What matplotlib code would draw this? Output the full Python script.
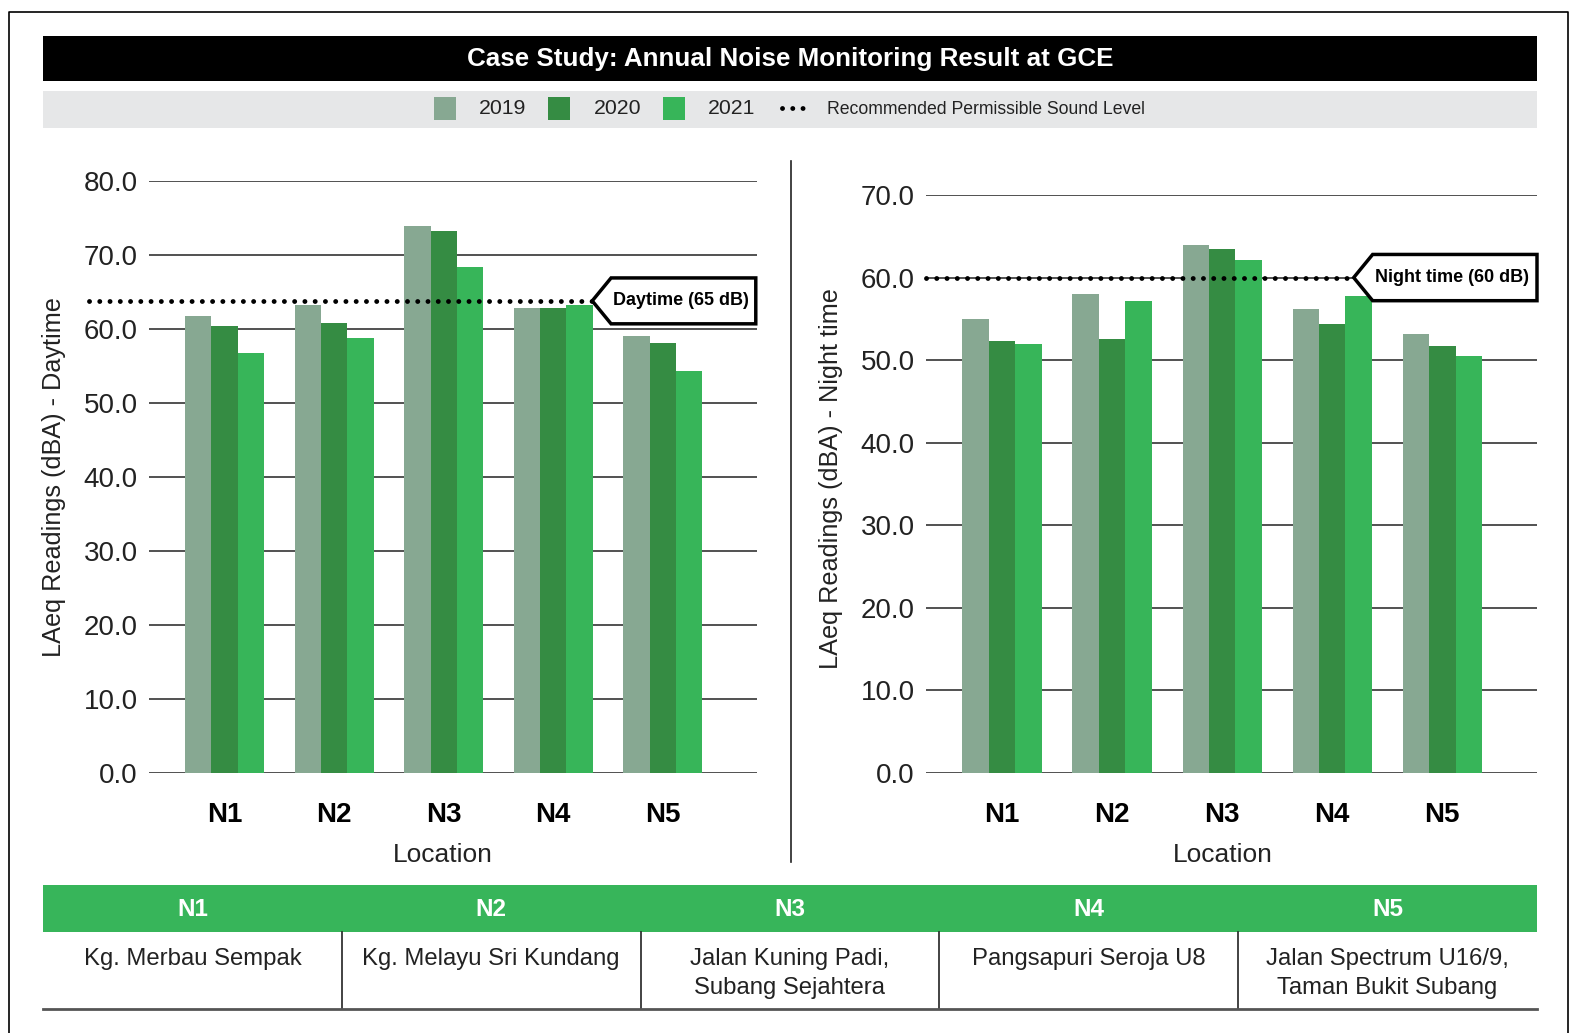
import matplotlib
matplotlib.use("Agg")
import matplotlib.pyplot as plt
from matplotlib.patches import Rectangle, Polygon
import numpy as np

plt.rcParams['font.family'] = ['Liberation Sans', 'DejaVu Sans']

# ---- data ----
locations = ['N1', 'N2', 'N3', 'N4', 'N5']
years = ['2019', '2020', '2021']
day_2019 = [61.8, 63.2, 73.9, 62.9, 59.0]
day_2020 = [60.4, 60.8, 73.2, 62.9, 58.1]
day_2021 = [56.7, 58.8, 68.4, 63.2, 54.3]
night_2019 = [55.0, 58.0, 63.9, 56.2, 53.2]
night_2020 = [52.3, 52.6, 63.5, 54.4, 51.7]
night_2021 = [52.0, 57.2, 62.1, 57.8, 50.5]
day_limit = 63.8      # drawn position of the 65 dB line
night_limit = 60.0
day_ticks = [0, 10, 20, 30, 40, 50, 60, 70, 80]
night_ticks = [0, 10, 20, 30, 40, 50, 60, 70]
location_names = ['Kg. Merbau Sempak', 'Kg. Melayu Sri Kundang',
                  'Jalan Kuning Padi,\nSubang Sejahtera', 'Pangsapuri Seroja U8',
                  'Jalan Spectrum U16/9,\nTaman Bukit Subang']

colors = ['#87a892', '#358c43', '#37b559']
table_green = '#37b55a'
W, H = 1578, 1033


def draw_panel(ax, series, ticks, limit, tag_text, line_x, tag_x, tag_half, ylabel):
    x = np.arange(len(locations))
    bw = 0.24
    for i, vals in enumerate(series):
        ax.bar(x + (i - 1) * bw, vals, width=bw, color=colors[i], zorder=3)
    ax.set_xlim(-0.69, 4.86)
    ax.set_ylim(ticks[0], ticks[-1])
    ax.set_yticks(ticks)
    ax.set_yticklabels(['%.1f' % t for t in ticks], fontsize=20, color='#222')
    ax.set_xticks(x)
    ax.set_xticklabels(locations, fontsize=20, fontweight='bold')
    ax.tick_params(axis='both', length=0)
    ax.tick_params(axis='y', pad=8)
    ax.tick_params(axis='x', pad=21)
    ax.yaxis.grid(True, color='#333333', lw=1.2, zorder=0)
    for s in ax.spines.values():
        s.set_visible(False)
    ax.set_ylabel(ylabel, fontsize=18.2, color='#222')
    ax.set_xlabel('Location', fontsize=19, color='#222')
    # dotted limit line
    ax.axhline(limit, xmin=line_x[0], xmax=line_x[1], color='black', lw=3.5,
               linestyle=(0, (0.01, 2.1)), dash_capstyle='round', clip_on=False, zorder=5)
    # tag shape pointing left
    tr = ax.get_yaxis_transform()
    tip, left, right = tag_x
    verts = [(tip, limit), (left, limit + tag_half), (right, limit + tag_half),
             (right, limit - tag_half), (left, limit - tag_half)]
    ax.add_patch(Polygon(verts, closed=True, transform=tr, facecolor='white',
                         edgecolor='black', lw=2.5, clip_on=False, zorder=6))
    ax.text((left + right) / 2 - 0.004, limit, tag_text, transform=tr, ha='center', va='center',
            fontsize=13, fontweight='bold', zorder=7)


fig = plt.figure(figsize=(W / 100, H / 100), dpi=100)

ax1 = fig.add_axes([149 / W, (H - 773) / H, 608 / W, 592 / H])
draw_panel(ax1, [day_2019, day_2020, day_2021], day_ticks, day_limit, 'Daytime (65 dB)',
           (-0.099, 0.728), (0.729, 0.76, 0.998), 3.1, 'LAeq Readings (dBA) - Daytime')
ax1.yaxis.set_label_coords(-0.137, 0.5)
ax1.xaxis.set_label_coords(0.484, -0.118)

ax2 = fig.add_axes([926 / W, (H - 773) / H, 611 / W, 578 / H])
draw_panel(ax2, [night_2019, night_2020, night_2021], night_ticks, night_limit, 'Night time (60 dB)',
           (0.0, 0.70), (0.70, 0.731, 1.0), 2.8, 'LAeq Readings (dBA) - Night time')
ax2.yaxis.set_label_coords(-0.136, 0.51)
ax2.xaxis.set_label_coords(0.486, -0.121)

# ---- overlay in pixel coordinates for frame, title, legend and table ----
ov = fig.add_axes([0, 0, 1, 1], zorder=-1)
ov.set_xlim(0, W)
ov.set_ylim(H, 0)
ov.axis('off')

# outer frame
ov.plot([9, 9, 1568, 1568], [H, 12, 12, H], color='black', lw=1.2)

# title bar
ov.add_patch(Rectangle((43, 36), 1494, 45, facecolor='black'))
ov.text(790, 59, 'Case Study: Annual Noise Monitoring Result at GCE', color='white',
        fontsize=18.7, fontweight='bold', ha='center', va='center')

# legend bar
ov.add_patch(Rectangle((43, 91), 1494, 37, facecolor='#e6e7e8'))
for i, yr in enumerate(years):
    x0 = 434 + i * 114.5
    ov.add_patch(Rectangle((x0, 97), 22, 23, facecolor=colors[i]))
    ov.text(x0 + 45, 109, yr, fontsize=15.3, ha='left', va='center', color='#222')
ov.plot([782, 805], [108, 108], color='black', lw=3.5, linestyle=(0, (0.01, 2.1)),
        dash_capstyle='round')
ov.text(827, 109, 'Recommended Permissible Sound Level', fontsize=12.7, ha='left',
        va='center', color='#222')

# separator between the panels
ov.plot([791, 791], [161, 862], color='#222', lw=1.2)

# location table
ov.add_patch(Rectangle((43, 885), 1494, 47, facecolor=table_green))
col_w = 1494 / len(locations)
for i, (loc, name) in enumerate(zip(locations, location_names)):
    cx = 43 + col_w * (i + 0.5)
    ov.text(cx, 909, loc, color='white', fontsize=17.5, fontweight='bold',
            ha='center', va='center')
    ov.text(cx, 948, name, fontsize=17.2, ha='center', va='top', color='#222',
            linespacing=1.4)
    if i > 0:
        ov.plot([43 + col_w * i] * 2, [932, 1009], color='#222', lw=1.2)
ov.plot([43, 1537], [1009, 1009], color='#555', lw=2)

fig.savefig('out.png', dpi=100)
